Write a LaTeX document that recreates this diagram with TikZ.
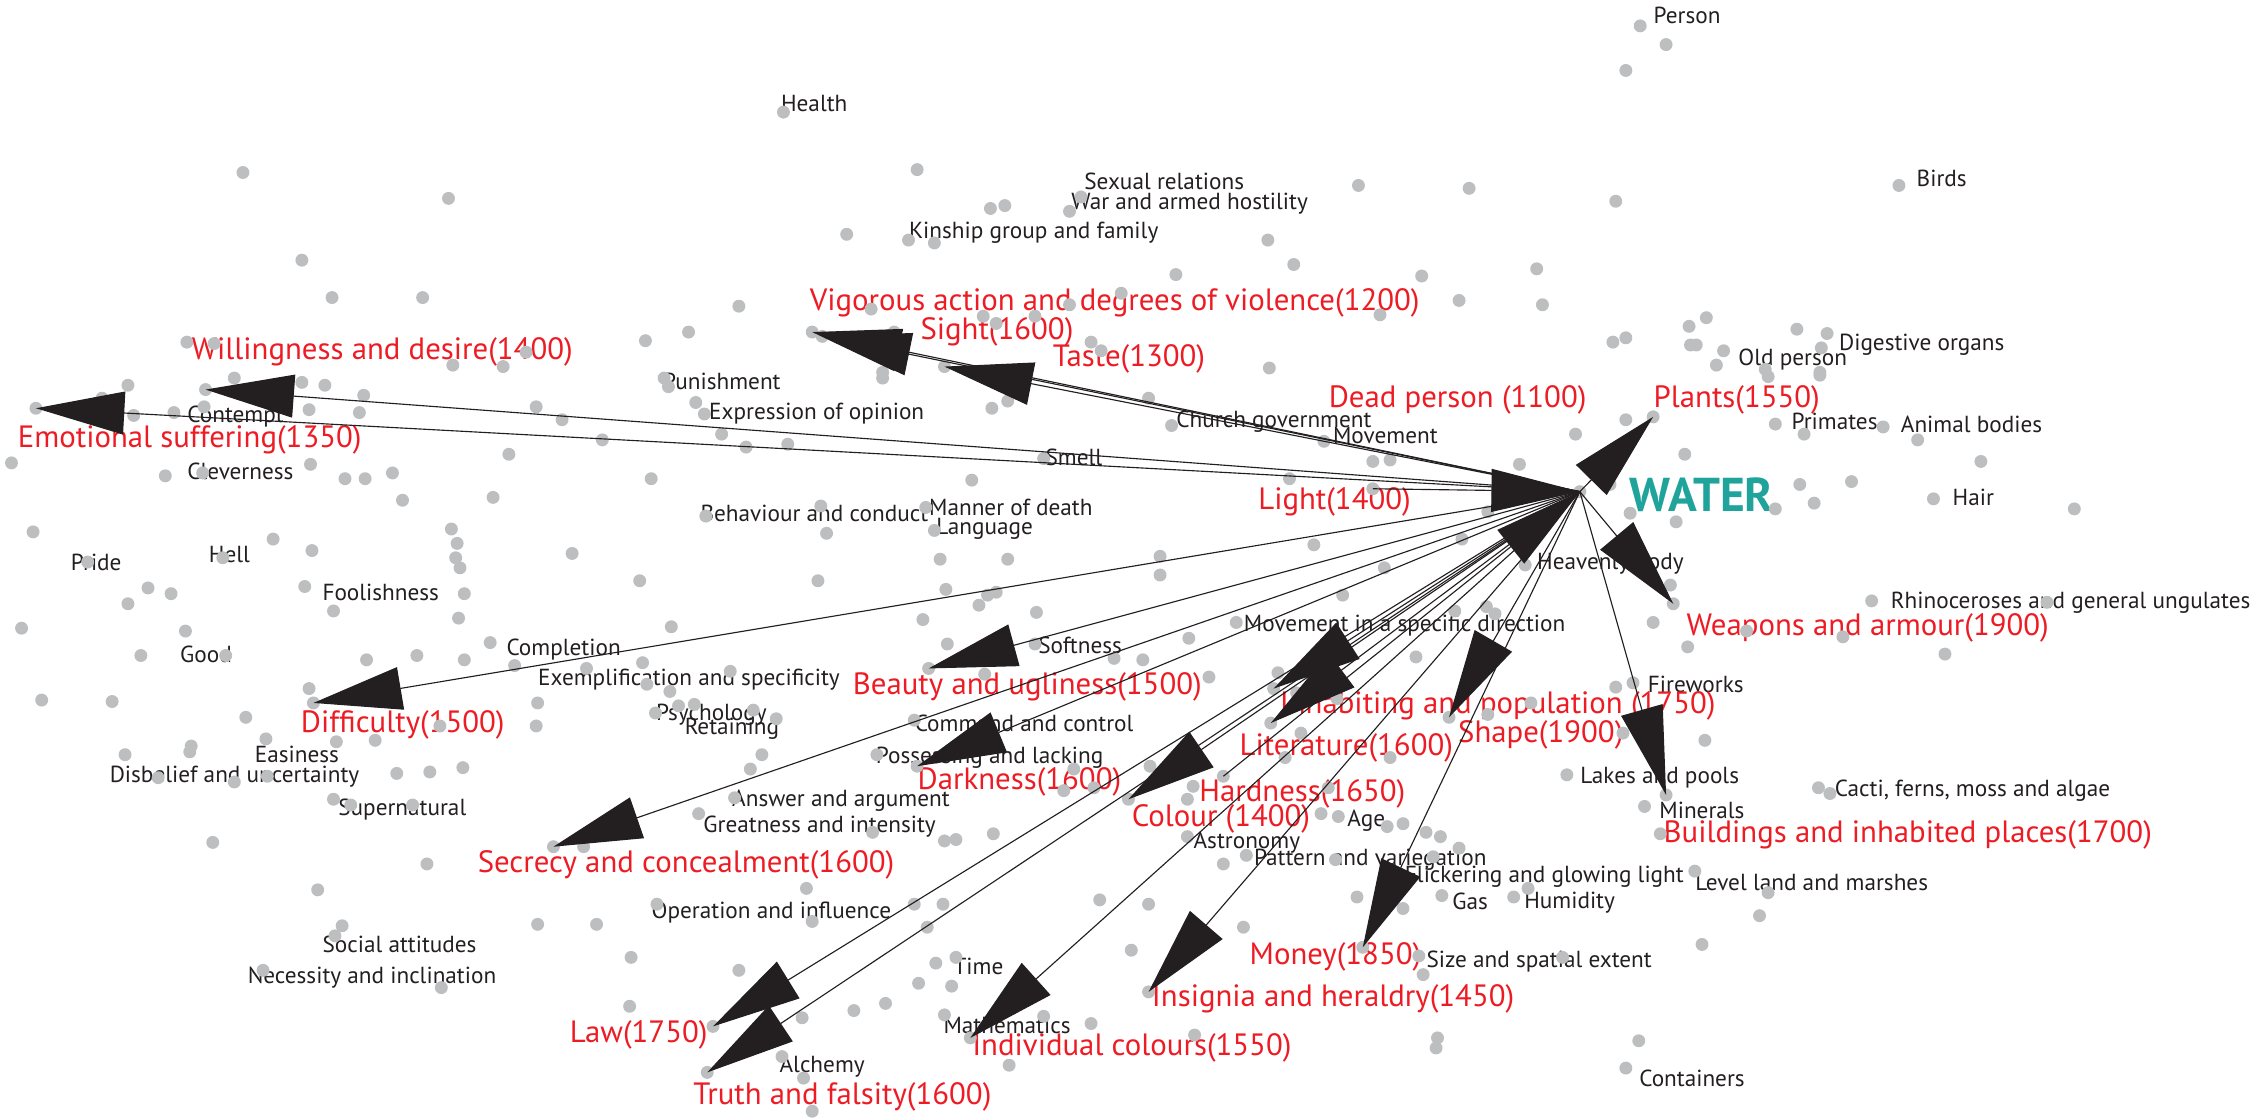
\documentclass[tikz,border=0pt]{standalone}
\usepackage{fontspec}
\setmainfont{PT Sans}
\usetikzlibrary{arrows.meta}
\definecolor{sensered}{HTML}{ED1C24}
\definecolor{waterteal}{HTML}{1FA39B}
\definecolor{dotgray}{HTML}{BCBEC0}
\definecolor{inkblack}{HTML}{231F20}

\begin{document}
\begin{tikzpicture}[
  x=0.02cm, y=-0.02cm,
  dot/.style={circle, fill=dotgray, inner sep=0pt, minimum size=0.18cm},
  lbl/.style={anchor=west, inner sep=0pt, text=inkblack, font=\fontsize{9.2}{10}\selectfont},
  sense/.style={anchor=west, inner sep=0pt, text=sensered, font=\fontsize{12.2}{13}\selectfont},
  arr/.style={draw=inkblack, line width=0.45pt, -{Triangle[length=35pt, width=17pt]}}
]
  \useasboundingbox (0,0) rectangle (1568,778);

  % category labels
  \node[lbl] (person) at (1150,11) {Person};
  \node[lbl] (health) at (543,72) {Health};
  \node[lbl] (birds) at (1333,124) {Birds};
  \node[lbl] (sexual) at (754,126) {Sexual relations};
  \node[lbl] (war) at (745,142) {War and armed hostility};
  \node[lbl] (kinship) at (632,162) {Kinship group and family};
  \node[lbl] (digest) at (1279,240) {Digestive organs};
  \node[lbl] (oldperson) at (1209,250) {Old person};
  \node[lbl] (punish) at (461,265) {Punishment};
  \node[lbl] (express) at (493,288) {Expression of opinion};
  \node[lbl] (contempt) at (130,290) {Contempt};
  \node[lbl] (church) at (818,293) {Church government};
  \node[lbl] (movement) at (927,303) {Movement};
  \node[lbl] (primates) at (1246,293) {Primates};
  \node[lbl] (animal) at (1322,295) {Animal bodies};
  \node[lbl] (smell) at (727,318) {Smell};
  \node[lbl] (clever) at (130,328) {Cleverness};
  \node[lbl] (hair) at (1358,346) {Hair};
  \node[lbl] (behaviour) at (487,357) {Behaviour and conduct};
  \node[lbl] (manner) at (646,353) {Manner of death};
  \node[lbl] (language) at (651,368) {Language};
  \node[lbl] (pride) at (49,391) {Pride};
  \node[lbl] (hell) at (145,386) {Hell};
  \node[lbl] (heavenly) at (1069,392) {Heavenly body};
  \node[lbl] (foolish) at (224,412) {Foolishness};
  \node[lbl] (rhino) at (1315,419) {Rhinoceroses and general ungulates};
  \node[lbl] (specdir) at (865,435) {Movement in a specific direction};
  \node[lbl] (complete) at (352,452) {Completion};
  \node[lbl] (soft) at (722,449) {Softness};
  \node[lbl] (good) at (125,455) {Good};
  \node[lbl] (exempl) at (374,473) {Exemplification and specificity};
  \node[lbl] (fireworks) at (1146,476) {Fireworks};
  \node[lbl] (psych) at (456,497) {Psychology};
  \node[lbl] (retain) at (476,507) {Retaining};
  \node[lbl] (command) at (636,503) {Command and control};
  \node[lbl] (easy) at (177,525) {Easiness};
  \node[lbl] (possess) at (609,527) {Possessing and lacking};
  \node[lbl] (disbelief) at (76,540) {Disbelief and uncertainty};
  \node[lbl] (lakes) at (1099,541) {Lakes and pools};
  \node[lbl] (cacti) at (1276,550) {Cacti, ferns, moss and algae};
  \node[lbl] (minerals) at (1154,564) {Minerals};
  \node[lbl] (supernat) at (235,563) {Supernatural};
  \node[lbl] (answer) at (509,557) {Answer and argument};
  \node[lbl] (great) at (489,575) {Greatness and intensity};
  \node[lbl] (age) at (937,571) {Age};
  \node[lbl] (astro) at (830,586) {Astronomy};
  \node[lbl] (pattern) at (872,598) {Pattern and variegation};
  \node[lbl] (flicker) at (977,610) {Flickering and glowing light};
  \node[lbl] (level) at (1179,614) {Level land and marshes};
  \node[lbl] (gas) at (1010,627) {Gas};
  \node[lbl] (humid) at (1060,628) {Humidity};
  \node[lbl] (operation) at (453,635) {Operation and influence};
  \node[lbl] (social) at (224,657) {Social attitudes};
  \node[lbl] (size) at (992,669) {Size and spatial extent};
  \node[lbl] (time) at (663,672) {Time};
  \node[lbl] (necess) at (172,680) {Necessity and inclination};
  \node[lbl] (maths) at (656,713) {Mathematics};
  \node[lbl] (alchemy) at (542,742) {Alchemy};
  \node[lbl] (contain) at (1140,750) {Containers};

  % sense labels
  \node[sense] (lvig) at (563,211) {Vigorous action and degrees of violence(1200)};
  \node[sense] (lsight) at (640,231) {Sight(1600)};
  \node[sense] (ltaste) at (732,250) {Taste(1300)};
  \node[sense] (lwill) at (133,245) {Willingness and desire(1400)};
  \node[sense] (lemo) at (12,306) {Emotional suffering(1350)};
  \node[sense] (ldead) at (924,278) {Dead person (1100)};
  \node[sense] (lplants) at (1150,278) {Plants(1550)};
  \node[sense] (llight) at (875,349) {Light(1400)};
  \node[sense] (lweap) at (1173,437) {Weapons and armour(1900)};
  \node[sense] (ldiff) at (209,504) {Difficulty(1500)};
  \node[sense] (lbeauty) at (593,478) {Beauty and ugliness(1500)};
  \node[sense] (linhab) at (890,491) {Inhabiting and population (1750)};
  \node[sense] (lshape) at (1014,511) {Shape(1900)};
  \node[sense] (llit) at (862,520) {Literature(1600)};
  \node[sense] (ldark) at (638,544) {Darkness(1600)};
  \node[sense] (lhard) at (834,552) {Hardness(1650)};
  \node[sense] (lcolour) at (787,570) {Colour (1400)};
  \node[sense] (lbuild) at (1157,581) {Buildings and inhabited places(1700)};
  \node[sense] (lsecret) at (332,602) {Secrecy and concealment(1600)};
  \node[sense] (lmoney) at (869,666) {Money(1850)};
  \node[sense] (linsig) at (801,695) {Insignia and heraldry(1450)};
  \node[sense] (llaw) at (396,720) {Law(1750)};
  \node[sense] (lindiv) at (676,729) {Individual colours(1550)};
  \node[sense] (ltruth) at (482,763) {Truth and falsity(1600)};
  \node[anchor=west, inner sep=0pt, text=waterteal, font=\fontsize{18.8}{20}\selectfont\bfseries] (lwater) at (1133,344) {WATER};

  % unlabelled categories
  \foreach \x/\y [count=\i] in {169/120, 312/138, 210/181, 231/207, 294/207, 130/238, 149/239, 315/254, 350/255, 366/245,
    545/78, 638/118, 689/145, 699/143, 752/137, 744/147, 589/163, 632/167, 650/169, 514/213, 449/237, 479/231, 606/215,
    684/220, 693/225, 720/220, 744/212, 780/204, 622/231, 759/238, 766/244, 614/259,
    1141/18, 1159/31, 1131/49, 945/129, 1022/131, 1124/140, 882/167, 900/184, 818/191, 989/192, 1069/187, 1015/209,
    1073/212, 960/219, 1175/227, 1122/238, 1131/235, 1176/240, 883/256,
    1321/129, 1187/221, 1250/229, 1271/232, 1180/240, 1199/244, 1267/242, 1194/254, 1228/257, 1266/259,
    89/268, 71/277, 93/289, 121/287, 163/263, 210/266, 226/268, 253/275, 215/285, 250/287, 142/283, 373/283, 391/292,
    8/322, 115/331, 141/329, 216/323, 240/333, 254/333, 273/329, 354/316, 280/348, 343/346, 23/370, 190/375, 217/383,
    314/368, 318/378, 317/388, 320/395, 61/391, 155/388, 103/409, 119/413, 89/420, 212/408, 232/425, 323/413, 319/430,
    15/437, 129/439, 98/456, 157/456, 341/447, 255/459, 290/456, 323/459, 358/463, 215/479, 29/487, 78/488, 171/499,
    185/514, 374/489, 373/505, 234/516, 261/515, 306/505, 133/519,
    462/263, 465/269, 614/263, 484/280, 490/288, 690/284, 701/279, 419/306, 502/302, 519/311, 548/309, 726/319, 453/333,
    676/334, 571/352, 644/353, 491/359, 575/371, 650/369, 398/385, 654/389, 701/389, 445/404, 569/404, 658/410, 687/414,
    693/412, 681/421, 721/426, 642/431, 467/436, 659/448, 697/443, 720/448, 775/458, 408/465, 447/461, 508/467, 685/469,
    450/476, 466/481, 472/491, 483/490, 456/496, 524/494, 540/500, 636/501,
    799/277, 815/296, 921/307, 955/321, 967/320, 1096/302, 1131/292, 1172/316, 1120/337, 897/333, 1134/357, 1166/363,
    1057/323, 1017/375, 1035/356, 914/379, 807/387, 807/400, 963/395, 934/414, 1061/393, 1162/407, 1150/433, 1174/450,
    860/433, 827/444, 795/459, 841/471, 1034/422, 1040/427, 985/457, 1012/425, 1124/478, 1136/475, 889/468, 902/482,
    930/486, 905/510, 1065/489, 1129/510, 1035/497,
    1230/262, 1266/261, 1235/295, 1255/302, 1310/297, 1334/306, 1378/321, 1252/337, 1288/335, 1262/350, 1235/354,
    1345/347, 1443/354, 1302/418, 1424/419, 1215/439, 1282/443, 1353/455, 1186/515,
    87/525, 132/523, 110/541, 163/544, 186/540, 276/538, 299/537, 322/534, 232/556, 244/560, 287/560, 148/586, 297/601,
    221/619, 238/644, 233/651, 374/643, 183/675, 307/687,
    530/525, 522/535, 610/525, 747/535, 740/550, 761/548, 511/555, 486/566, 607/579, 657/585, 665/584, 691/580, 406/589,
    561/618, 457/629, 415/643, 565/641, 636/629, 656/629, 645/645, 765/626, 439/666, 514/675, 651/670, 665/666, 639/684,
    662/686, 438/700, 558/708, 594/703, 616/698, 657/706, 726/707, 759/712, 544/735, 702/741, 559/750, 565/773,
    800/533, 894/527, 967/527, 1090/539, 1144/561, 1155/580, 830/547, 826/556, 924/548, 919/566, 931/568, 965/575,
    976/573, 992/579, 1002/582, 1015/590, 826/582, 867/595, 851/601, 929/598, 971/607, 997/596, 1063/618, 1053/624,
    1003/623, 944/624, 976/632, 799/629, 865/645, 787/661, 990/678, 987/665, 1087/666, 831/720, 1000/722, 999/729,
    1140/724, 1131/743, 1265/548, 1273/552, 1179/606, 1230/621, 1224/637, 1184/657}
    \node[dot] (g\i) at (\x,\y) {};

  % categories joined to WATER
  \node[dot] (water) at (1099,342) {};
  \node[dot] (vig) at (565,231) {};
  \node[dot] (sight) at (572,234) {};
  \node[dot] (taste) at (657,255) {};
  \node[dot] (will) at (143,271) {};
  \node[dot] (emo) at (25,284) {};
  \node[dot] (plants) at (1150,290) {};
  \node[dot] (light) at (955,340) {};
  \node[dot] (weap) at (1164,420) {};
  \node[dot] (diff) at (218,489) {};
  \node[dot] (beauty) at (646,465) {};
  \node[dot] (inhab) at (886,479) {};
  \node[dot] (shape) at (1008,499) {};
  \node[dot] (lit) at (884,503) {};
  \node[dot] (dark) at (638,533) {};
  \node[dot] (hard) at (851,540) {};
  \node[dot] (colour) at (785,556) {};
  \node[dot] (build) at (1159,553) {};
  \node[dot] (secret) at (385,589) {};
  \node[dot] (money) at (948,659) {};
  \node[dot] (insig) at (799,690) {};
  \node[dot] (law) at (496,714) {};
  \node[dot] (indiv) at (675,722) {};
  \node[dot] (truth) at (492,746) {};

  % shifts of sense
  \foreach \t in {vig, sight, taste, will, emo, plants, weap, diff, beauty, inhab, shape, lit,
                  dark, colour, build, secret, money, insig, law, indiv, truth}
    \draw[arr] (water.center) -- (\t.center);
  \draw[arr] (light.center) -- (water.center);
  \draw[arr] (hard.center) -- (water.center);
\end{tikzpicture}
\end{document}
